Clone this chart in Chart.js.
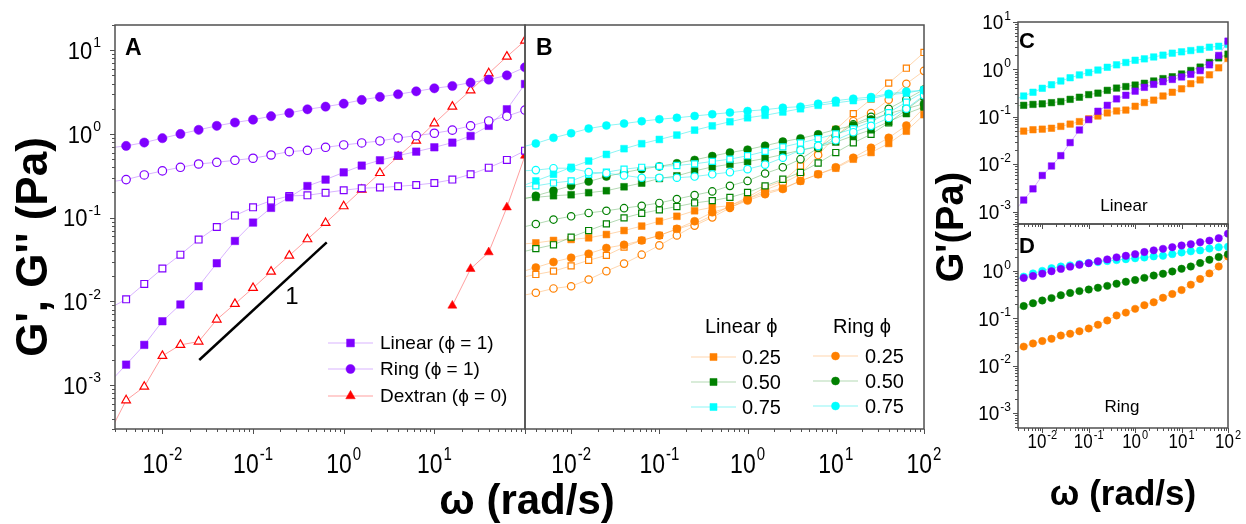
<!DOCTYPE html>
<html>
<head>
<meta charset="utf-8">
<script src="https://cdn.jsdelivr.net/npm/chart.js@4.4.1/dist/chart.umd.min.js"></script>
<style>
  html, body { margin: 0; padding: 0; background: #fff; }
  #wrap { position: relative; width: 1246px; height: 524px; overflow: hidden; }
  #wrap canvas { position: absolute; left: 0; top: 0; }
</style>
</head>
<body>
<div id="wrap">
  <canvas id="chartA" width="1246" height="524"></canvas>
  <canvas id="chartB" width="1246" height="524"></canvas>
  <canvas id="chartC" width="1246" height="524"></canvas>
  <canvas id="chartD" width="1246" height="524"></canvas>
</div>
<script>
// angular frequency (rad/s), 5 points per decade; first one sits just left of the axis
const freq = [0.00251, 0.00398, 0.00631, 0.01, 0.0158, 0.0251, 0.0398, 0.0631, 0.1, 0.158, 0.251,
  0.398, 0.631, 1, 1.58, 2.51, 3.98, 6.31, 10, 15.8, 25.1, 39.8, 63.1, 100];

// panel A  (phi = 1 and dextran)
const linear1G1 = [0.00103, 0.00176, 0.00303, 0.0058, 0.0092, 0.0152, 0.0286, 0.0528, 0.0875, 0.131, 0.175, 0.239,
  0.285, 0.348, 0.419, 0.485, 0.551, 0.615, 0.693, 0.788, 0.946, 1.25, 1.97, 3.95];
const linear1G2 = [0.0081, 0.0106, 0.0162, 0.0247, 0.0362, 0.0548, 0.0776, 0.106, 0.133, 0.160, 0.182, 0.185,
  0.199, 0.213, 0.225, 0.229, 0.237, 0.246, 0.260, 0.285, 0.330, 0.396, 0.490, 0.632];
const ring1G1 = [0.68, 0.72, 0.79, 0.89, 1.0, 1.12, 1.25, 1.37, 1.48, 1.63, 1.78, 1.97,
  2.12, 2.30, 2.55, 2.77, 2.98, 3.23, 3.51, 3.74, 4.10, 4.45, 5.01, 6.25];
const ring1G2 = [0.266, 0.285, 0.324, 0.362, 0.40, 0.438, 0.459, 0.485, 0.513, 0.561, 0.615, 0.638,
  0.693, 0.739, 0.781, 0.825, 0.896, 0.955, 1.02, 1.11, 1.25, 1.43, 1.63, 1.93];
const dextranG2 = [0.00025, 0.00066, 0.00096, 0.00224, 0.00303, 0.00332, 0.00608, 0.00935, 0.0145, 0.0227, 0.0353, 0.0553,
  0.0866, 0.137, 0.216, 0.342, 0.536, 0.832, 1.34, 2.12, 3.32, 5.30, 8.38, 13.0];
const dextranG1 = [null, null, null, null, null, null, null, null, null, null, null, null,
  null, null, null, null, null, null, null, 0.00893, 0.0245, 0.0387, 0.133, 0.551];
const slopeX = [0.0255, 0.65];
const slopeY = [0.002, 0.0508];

// panel B  (phi = 0.25 / 0.50 / 0.75)
const lin25G1 = [0.048, 0.050, 0.0535, 0.055, 0.0575, 0.063, 0.0703, 0.0794, 0.0908, 0.104, 0.121, 0.133,
  0.139, 0.167, 0.20, 0.225, 0.275, 0.33, 0.39, 0.50, 0.60, 0.77, 1.08, 1.70];
const lin25G2 = [0.019, 0.021, 0.023, 0.0266, 0.031, 0.0355, 0.0447, 0.0535, 0.0614, 0.073, 0.0843, 0.106,
  0.139, 0.175, 0.23, 0.275, 0.415, 0.655, 1.13, 1.75, 2.6, 4.05, 6.1, 9.4];
const ring25G1 = [0.022, 0.0254, 0.0296, 0.0333, 0.0372, 0.0435, 0.0475, 0.0535, 0.0614, 0.0736, 0.0908, 0.116,
  0.133, 0.16, 0.191, 0.22, 0.275, 0.33, 0.40, 0.52, 0.685, 0.90, 1.26, 2.05];
const ring25G2 = [0.0115, 0.0127, 0.0143, 0.0152, 0.0183, 0.023, 0.0283, 0.0362, 0.0467, 0.0614, 0.0805, 0.101,
  0.131, 0.167, 0.214, 0.259, 0.33, 0.56, 0.94, 1.42, 1.78, 2.56, 3.97, 5.67];
const lin50G1 = [0.17, 0.175, 0.183, 0.188, 0.199, 0.21, 0.234, 0.259, 0.294, 0.316, 0.362, 0.404,
  0.435, 0.468, 0.51, 0.57, 0.64, 0.70, 0.80, 0.95, 1.12, 1.40, 1.75, 2.1];
const lin50G2 = [0.038, 0.0427, 0.0475, 0.0586, 0.0703, 0.0843, 0.0995, 0.113, 0.124, 0.136, 0.15, 0.16,
  0.175, 0.20, 0.24, 0.288, 0.347, 0.45, 0.60, 0.785, 0.99, 1.36, 1.95, 2.8];
const ring50G1 = [0.16, 0.183, 0.21, 0.24, 0.27, 0.31, 0.347, 0.38, 0.41, 0.447, 0.49, 0.545,
  0.60, 0.65, 0.725, 0.81, 0.885, 0.99, 1.13, 1.26, 1.49, 1.75, 2.0, 2.3];
const ring50G2 = [0.075, 0.084, 0.095, 0.104, 0.114, 0.121, 0.13, 0.139, 0.15, 0.167, 0.186, 0.206,
  0.24, 0.275, 0.337, 0.40, 0.50, 0.68, 0.95, 1.3, 1.6, 2.0, 2.6, 3.4];
const lin75G1 = [0.23, 0.275, 0.33, 0.40, 0.475, 0.57, 0.667, 0.765, 0.86, 0.97, 1.11, 1.25,
  1.40, 1.56, 1.67, 1.83, 2.0, 2.2, 2.35, 2.50, 2.64, 2.94, 3.08, 3.37];
const lin75G2 = [0.23, 0.24, 0.26, 0.275, 0.33, 0.35, 0.38, 0.40, 0.41, 0.42, 0.44, 0.47,
  0.50, 0.55, 0.62, 0.70, 0.78, 0.88, 1.0, 1.15, 1.4, 1.8, 2.4, 3.2];
const ring75G1 = [0.68, 0.77, 0.90, 1.02, 1.16, 1.26, 1.33, 1.42, 1.50, 1.56, 1.64, 1.72,
  1.80, 1.88, 1.95, 2.06, 2.12, 2.30, 2.50, 2.64, 2.76, 3.02, 3.22, 3.31];
const ring75G2 = [0.36, 0.37, 0.39, 0.39, 0.35, 0.34, 0.32, 0.30, 0.30, 0.30, 0.31, 0.33,
  0.35, 0.38, 0.43, 0.52, 0.64, 0.72, 0.84, 1.05, 1.25, 1.55, 2.0, 2.9];

const phiLabels = ['0.25', '0.50', '0.75'];

const PURPLE = '#7f00ff', RED = '#ff0000', ORANGE = '#ff8000', GREEN = '#008000', CYAN = '#00ffff';
const LINE = {};
LINE[PURPLE] = 'rgba(127,0,255,0.3)';
LINE[RED] = 'rgba(255,0,0,0.38)';
LINE[ORANGE] = 'rgba(255,128,0,0.32)';
LINE[GREEN] = 'rgba(0,128,0,0.3)';
LINE[CYAN] = 'rgba(0,230,230,0.45)';

const FONT = '"Liberation Sans", Arial, Helvetica, sans-serif';

function pts(vals) {
  return freq.map((f, i) => ({ x: f, y: vals[i] }));
}

function series(vals, color, shape, filled, r) {
  return {
    data: pts(vals),
    borderColor: LINE[color],
    backgroundColor: LINE[color],
    borderWidth: 1,
    pointStyle: shape,
    pointRadius: r,
    pointHoverRadius: r,
    pointBorderColor: color,
    pointBackgroundColor: filled ? color : '#ffffff',
    pointBorderWidth: filled ? 0.5 : 1.2,
    tension: 0
  };
}

function powLabel(ctx, exp, x, y, size, align, sy) {
  const base = '10', sup = String(exp);
  ctx.font = size + 'px ' + FONT;
  const wb = ctx.measureText(base).width;
  const ss = Math.round(size * 0.64);
  ctx.font = ss + 'px ' + FONT;
  const ws = ctx.measureText(sup).width;
  const total = wb + ws + 1;
  let x0 = x;
  if (align === 'right') x0 = x - total;
  if (align === 'center') x0 = x - total / 2;
  ctx.save();
  ctx.translate(x0, y);
  ctx.scale(1, sy);
  ctx.textAlign = 'left';
  ctx.textBaseline = 'alphabetic';
  ctx.font = size + 'px ' + FONT;
  ctx.fillText(base, 0, size * 0.36);
  ctx.font = ss + 'px ' + FONT;
  ctx.fillText(sup, wb + 1, -size * 0.12);
  ctx.restore();
}

function drawText(ctx, t) {
  ctx.save();
  ctx.translate(t.x, t.y);
  if (t.rot) ctx.rotate(t.rot);
  ctx.font = t.font;
  ctx.fillStyle = t.color || '#000';
  ctx.textAlign = t.align || 'left';
  ctx.textBaseline = t.base || 'alphabetic';
  ctx.fillText(t.text, 0, 0);
  ctx.restore();
}

const framePlugin = {
  id: 'frame',
  afterDraw(chart, args, o) {
    const ctx = chart.ctx, a = chart.chartArea;
    const xs = chart.scales.x, ys = chart.scales.y;
    ctx.save();
    ctx.strokeStyle = '#505050';
    ctx.fillStyle = '#000';
    ctx.lineWidth = 1;
    for (let e = -4; e <= 2; e++) {
      for (let m = 1; m <= 9; m++) {
        const v = m * Math.pow(10, e);
        const len = m === 1 ? 5 : 3;
        if (o.left && v >= ys.min && v <= ys.max) {
          const py = Math.round(ys.getPixelForValue(v)) + 0.5;
          ctx.beginPath(); ctx.moveTo(a.left, py); ctx.lineTo(a.left - len, py); ctx.stroke();
        }
        if (o.bottom && v >= xs.min && v <= xs.max) {
          const px = Math.round(xs.getPixelForValue(v)) + 0.5;
          ctx.beginPath(); ctx.moveTo(px, a.bottom); ctx.lineTo(px, a.bottom + len); ctx.stroke();
        }
      }
    }
    ctx.lineWidth = 1.5;
    ctx.strokeRect(a.left, a.top, a.right - a.left, a.bottom - a.top);

    (o.yExp || []).forEach(e => {
      powLabel(ctx, e, o.yRight, ys.getPixelForValue(Math.pow(10, e)), o.yFont, 'right', o.ySy);
    });
    (o.xExp || []).forEach(e => {
      powLabel(ctx, e, xs.getPixelForValue(Math.pow(10, e)), o.xY, o.xFont, 'center', o.xSy);
    });
    (o.texts || []).forEach(t => drawText(ctx, t));

    (o.legend || []).forEach(row => {
      ctx.strokeStyle = LINE[row.color];
      ctx.lineWidth = 1;
      ctx.beginPath(); ctx.moveTo(row.x1, row.y); ctx.lineTo(row.x2, row.y); ctx.stroke();
      ctx.fillStyle = row.color;
      ctx.strokeStyle = row.color;
      ctx.lineWidth = 0.5;
      Chart.helpers.drawPoint(ctx, { pointStyle: row.shape, radius: row.r, rotation: 0, borderWidth: 0.5 },
        (row.x1 + row.x2) / 2, row.y);
      ctx.fillStyle = '#000';
      ctx.font = row.size + 'px ' + FONT;
      ctx.textAlign = 'left';
      ctx.textBaseline = 'middle';
      ctx.fillText(row.label, row.tx, row.y + 1);
    });
    ctx.restore();
  }
};
Chart.register(framePlugin);

function makeChart(id, area, ymin, ymax, datasets, frameOpts) {
  return new Chart(document.getElementById(id), {
    type: 'line',
    data: { datasets: datasets },
    options: {
      responsive: false,
      animation: false,
      devicePixelRatio: 1,
      events: [],
      layout: { padding: { left: area[0], top: area[2], right: 1246 - area[1], bottom: 524 - area[3] } },
      scales: {
        x: { type: 'logarithmic', min: 0.003, max: 100, display: false },
        y: { type: 'logarithmic', min: ymin, max: ymax, display: false }
      },
      plugins: { legend: { display: false }, tooltip: { enabled: false }, frame: frameOpts }
    }
  });
}

// ---- panel A
const slope = {
  data: slopeX.map((x, i) => ({ x: x, y: slopeY[i] })),
  borderColor: '#000', borderWidth: 2.5, pointRadius: 0, tension: 0
};
makeChart('chartA', [115, 525, 25, 429], 3e-4, 20, [
  series(ring1G1, PURPLE, 'circle', true, 4.6),
  series(ring1G2, PURPLE, 'circle', false, 4.2),
  series(linear1G1, PURPLE, 'rect', true, 5.3),
  series(linear1G2, PURPLE, 'rect', false, 4.8),
  series(dextranG2, RED, 'triangle', false, 5),
  series(dextranG1, RED, 'triangle', true, 5.2),
  slope
], {
  left: true, bottom: true,
  yExp: [1, 0, -1, -2, -3], yRight: 101, yFont: 22, ySy: 1.08,
  xExp: [-2, -1, 0, 1], xY: 463, xFont: 23, xSy: 1.2,
  texts: [
    { text: 'A', x: 125, y: 55, font: 'bold 23px ' + FONT },
    { text: '1', x: 292, y: 304, font: '24px ' + FONT, align: 'center' },
    { text: "G', G'' (Pa)", x: 47, y: 247, rot: -Math.PI / 2, font: 'bold 44px ' + FONT, align: 'center' },
    { text: 'ω (rad/s)', x: 527, y: 514, font: 'bold 42px ' + FONT, align: 'center' }
  ],
  legend: [
    { label: 'Linear (ϕ = 1)', color: PURPLE, shape: 'rect', r: 5.5, x1: 328, x2: 373, y: 343, tx: 380, size: 19 },
    { label: 'Ring (ϕ = 1)', color: PURPLE, shape: 'circle', r: 4.5, x1: 328, x2: 373, y: 369, tx: 380, size: 19 },
    { label: 'Dextran (ϕ = 0)', color: RED, shape: 'triangle', r: 5.5, x1: 328, x2: 373, y: 396, tx: 380, size: 19 }
  ]
});

// ---- panel B
makeChart('chartB', [525, 924, 25, 429], 3e-4, 20, [
  series(ring75G1, CYAN, 'circle', true, 4),
  series(lin75G1, CYAN, 'rect', true, 4.8),
  series(ring75G2, CYAN, 'circle', false, 3.7),
  series(lin75G2, CYAN, 'rect', false, 4.3),
  series(ring50G1, GREEN, 'circle', true, 4),
  series(lin50G1, GREEN, 'rect', true, 4.8),
  series(ring50G2, GREEN, 'circle', false, 3.7),
  series(lin50G2, GREEN, 'rect', false, 4.3),
  series(ring25G1, ORANGE, 'circle', true, 4),
  series(lin25G1, ORANGE, 'rect', true, 4.8),
  series(ring25G2, ORANGE, 'circle', false, 3.7),
  series(lin25G2, ORANGE, 'rect', false, 4.3)
], {
  left: false, bottom: true,
  xExp: [-2, -1, 0, 1, 2], xY: 463, xFont: 23, xSy: 1.2,
  texts: [
    { text: 'B', x: 536, y: 55, font: 'bold 23px ' + FONT },
    { text: 'Linear ϕ', x: 705, y: 333, font: '20px ' + FONT },
    { text: 'Ring ϕ', x: 833, y: 333, font: '20px ' + FONT },
    { text: "G'(Pa)", x: 963, y: 227, rot: -Math.PI / 2, font: 'bold 38px ' + FONT, align: 'center' }
  ],
  legend: [
    { label: phiLabels[0], color: ORANGE, shape: 'rect', r: 5, x1: 691, x2: 736, y: 357, tx: 742, size: 20 },
    { label: phiLabels[1], color: GREEN, shape: 'rect', r: 5, x1: 691, x2: 736, y: 382, tx: 742, size: 20 },
    { label: phiLabels[2], color: CYAN, shape: 'rect', r: 5, x1: 691, x2: 736, y: 407, tx: 742, size: 20 },
    { label: phiLabels[0], color: ORANGE, shape: 'circle', r: 4, x1: 813, x2: 858, y: 356, tx: 865, size: 20 },
    { label: phiLabels[1], color: GREEN, shape: 'circle', r: 4, x1: 813, x2: 858, y: 381, tx: 865, size: 20 },
    { label: phiLabels[2], color: CYAN, shape: 'circle', r: 4, x1: 813, x2: 858, y: 406, tx: 865, size: 20 }
  ]
});

// ---- panel C (linear G')
makeChart('chartC', [1018, 1228, 22, 224], 5.5e-4, 10, [
  series(linear1G1, PURPLE, 'rect', true, 4.6),
  series(lin75G1, CYAN, 'rect', true, 4.6),
  series(lin50G1, GREEN, 'rect', true, 4.6),
  series(lin25G1, ORANGE, 'rect', true, 4.6)
], {
  left: true, bottom: true,
  yExp: [1, 0, -1, -2, -3], yRight: 1011, yFont: 19, ySy: 1.05,
  texts: [
    { text: 'C', x: 1019, y: 48, font: 'bold 22px ' + FONT },
    { text: 'Linear', x: 1124, y: 211, font: '17px ' + FONT, align: 'center' }
  ]
});

// ---- panel D (ring G')
makeChart('chartD', [1018, 1228, 224, 428], 4.8e-4, 10, [
  series(ring1G1, PURPLE, 'circle', true, 3.7),
  series(ring75G1, CYAN, 'circle', true, 3.7),
  series(ring50G1, GREEN, 'circle', true, 3.7),
  series(ring25G1, ORANGE, 'circle', true, 3.7)
], {
  left: true, bottom: true,
  yExp: [0, -1, -2, -3], yRight: 1011, yFont: 19, ySy: 1.05,
  xExp: [-2, -1, 0, 1, 2], xY: 441, xFont: 17, xSy: 1.2,
  texts: [
    { text: 'D', x: 1019, y: 253, font: 'bold 22px ' + FONT },
    { text: 'Ring', x: 1122, y: 412, font: '17px ' + FONT, align: 'center' },
    { text: 'ω (rad/s)', x: 1123, y: 505, font: 'bold 35px ' + FONT, align: 'center' }
  ]
});
</script>
</body>
</html>
